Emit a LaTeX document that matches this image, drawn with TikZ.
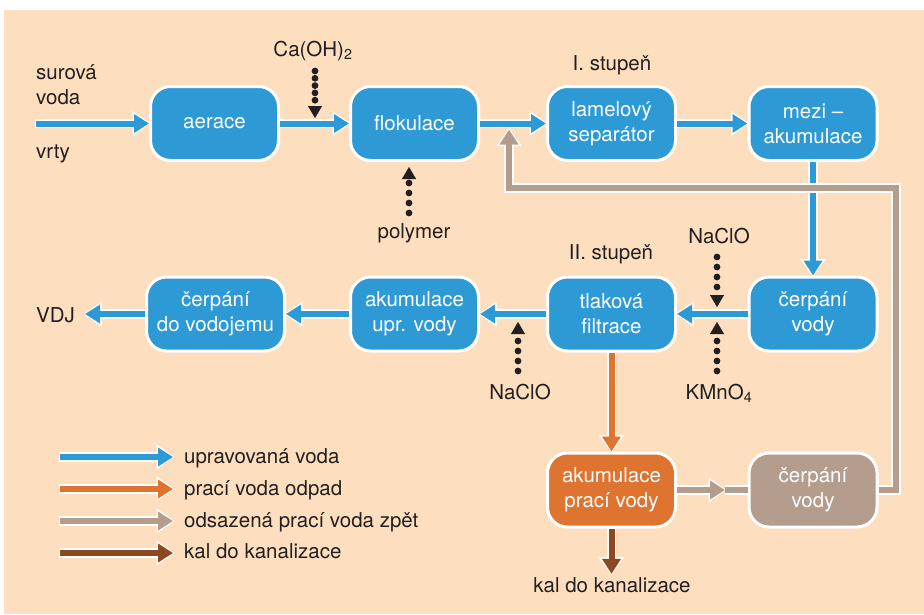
\documentclass[tikz,border=0pt]{standalone}
\usepackage{fontspec}
\setmainfont{TeX Gyre Heros}
\usetikzlibrary{arrows.meta,positioning,decorations.markings}

\definecolor{bgpeach}{RGB}{253,223,191}
\definecolor{procblue}{RGB}{45,154,213}
\definecolor{washorange}{RGB}{222,116,48}
\definecolor{backtan}{RGB}{180,157,140}
\definecolor{sludgebrown}{RGB}{139,72,33}
\definecolor{inkgray}{RGB}{35,31,32}

\newcommand{\diafont}{\fontsize{20.5}{25}\selectfont}

\begin{document}
\begin{tikzpicture}[
  x=1pt,y=-1pt,
  node distance=190.5pt and 199pt,on grid,
  proc/.style={rectangle,rounded corners=20pt,draw=white,line width=3pt,fill=#1,text=white,
    minimum width=128pt,minimum height=74pt,align=center,font=\diafont},
  proc/.default=procblue,
  lbl/.style={font=\diafont,text=inkgray,inner sep=3pt,align=left},
  flow/.style={draw=#1,line width=6pt,-{Triangle[length=15pt,width=18pt]},
    preaction={draw=white,line width=9.5pt,-{Triangle[length=18pt,width=24pt]},shorten >=-1.5pt,shorten <=-1.5pt}},
  flow/.default=procblue,
  flowline/.style={draw=#1,line width=6pt,preaction={draw=white,line width=9.5pt}},
  dose/.style={postaction={decorate,decoration={markings,
    mark=between positions 0 and 34pt step #1 with {\fill[inkgray] (0,0) circle (3.4pt);},
    mark=at position 1 with {\arrow{Triangle[length=12pt,width=14pt,color=inkgray]}}}}},
  dose/.default=10pt
]
% background
\fill[white] (0,0) rectangle (924,614);
\fill[bgpeach] (4,10) rectangle (924,614);
\useasboundingbox (0,0) rectangle (924,614);

% main line, top row
\node[proc] (aer) at (214.5,123.5) {aerace};
\node[proc,right=200pt of aer] (flok) {flokulace};
\node[proc,right=197pt of flok] (lam) {lamelový\\separátor};
\node[proc,right=201.5pt of lam] (mezi) {mezi –\\akumulace};
% second row, right to left
\node[proc,below=of mezi] (cerpv) {čerpání\\vody};
\node[proc,left=201.5pt of cerpv] (tlak) {tlaková\\filtrace};
\node[proc,left=197pt of tlak] (akupr) {akumulace\\upr. vody};
\node[proc,left=199pt of akupr,minimum width=138pt] (cerpdo) {čerpání\\do vodojemu};
% wash water
\node[proc=washorange,below=176pt of tlak] (akprac) {akumulace\\prací vody};
\node[proc=backtan,below=176pt of cerpv] (cerpb) {čerpání\\vody};

% texts
\node[lbl,anchor=north west] (raw) at (33,61) {surová\\voda};
\node[lbl,anchor=base west] (wells) at (33,158) {vrty};
\node[lbl,anchor=base] (caoh) at (313,56) {Ca(OH)\textsubscript{2}};
\node[lbl,anchor=base] (st1) at (612,70) {I. stupeň};
\node[lbl,anchor=base] (poly) at (414,238) {polymer};
\node[lbl,anchor=base] (st2) at (611,259) {II. stupeň};
\node[lbl,anchor=base] (clo1) at (719,243) {NaClO};
\node[lbl,anchor=base] (kmno) at (719,399) {KMnO\textsubscript{4}};
\node[lbl,anchor=base] (clo2) at (520,399) {NaClO};
\node[lbl,anchor=base west,inner xsep=10pt] (vdj) at (26,322) {VDJ};
\node[lbl,anchor=base] (kal) at (612,592) {kal do kanalizace};

\coordinate (src) at (36,123.5);
\coordinate (retA) at (896,188);
\coordinate (retB) at (509,188);
\coordinate (retTip) at (509,129.5);
\coordinate (midtip) at (725,490);

% treated water
\draw[flow] (src) -- (aer);
\draw[flow] (aer) -- (flok);
\draw[flow] (flok) -- (lam);
\draw[flow] (lam) -- (mezi);
\draw[flow] (mezi) -- (cerpv);
\draw[flow] (cerpv) -- (tlak);
\draw[flow] (tlak) -- (akupr);
\draw[flow] (akupr) -- (cerpdo);
\draw[flow] (cerpdo.west) -- (cerpdo.west -| vdj.east);

% wash water and return
\draw[flow=washorange] (tlak) -- (akprac);
\draw[flow=sludgebrown] (akprac.south) -- (akprac.south |- kal.north);
\draw[flow=backtan] (akprac) -- (midtip);
\draw[flowline=backtan] (midtip) -- (cerpb);
\draw[flow=backtan] (cerpb.east) -| (retA) -- (retB) -- (retTip);

% dosing
\coordinate (caA) at (315,71);   \coordinate (caB) at (315,118);
\coordinate (polA) at (409,213); \coordinate (polB) at (409,167);
\coordinate (cl1A) at (717,257); \coordinate (cl1B) at (717,307);
\coordinate (kmA) at (717,371);  \coordinate (kmB) at (717,322);
\coordinate (cl2A) at (518,371); \coordinate (cl2B) at (518,322);
\path[dose=7.3pt] (caA) -- (caB);
\path[dose] (polA) -- (polB);
\path[dose] (cl1A) -- (cl1B);
\path[dose] (kmA) -- (kmB);
\path[dose] (cl2A) -- (cl2B);

% legend
\coordinate (lg1a) at (60,457); \coordinate (lg1b) at (173,457);
\coordinate (lg2a) at (60,489); \coordinate (lg2b) at (173,489);
\coordinate (lg3a) at (60,521); \coordinate (lg3b) at (173,521);
\coordinate (lg4a) at (60,553); \coordinate (lg4b) at (173,553);
\draw[flow] (lg1a) -- (lg1b);
\draw[flow=washorange] (lg2a) -- (lg2b);
\draw[flow=backtan] (lg3a) -- (lg3b);
\draw[flow=sludgebrown] (lg4a) -- (lg4b);
\node[lbl,anchor=base west] (lg1) at (181,463) {upravovaná voda};
\node[lbl,anchor=base west] (lg2) at (181,495) {prací voda odpad};
\node[lbl,anchor=base west] (lg3) at (181,527) {odsazená prací voda zpět};
\node[lbl,anchor=base west] (lg4) at (181,558) {kal do kanalizace};
\end{tikzpicture}
\end{document}
